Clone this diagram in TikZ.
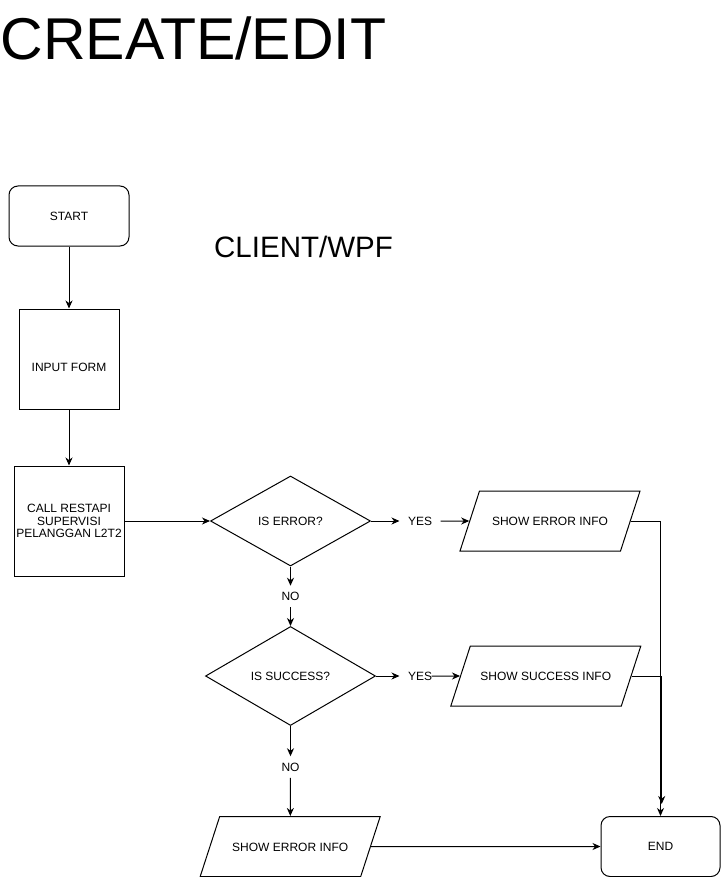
\documentclass[tikz,border=0pt]{standalone}
\usepackage{fontspec}
\setmainfont{Liberation Sans}
\usepackage{tikz}
\usetikzlibrary{arrows.meta}
\usetikzlibrary{shapes.geometric}

\begin{document}
\begin{tikzpicture}[x=1pt, y=-1pt, line width=1pt,
		every node/.style={font=\fontsize{12}{12.5}\selectfont, align=center},
		process/.style={draw, rectangle, inner sep=0pt},
		terminal/.style={draw, rectangle, rounded corners=9pt, minimum width=120pt, minimum height=60pt, inner sep=0pt},
		decision/.style={draw, diamond, inner sep=0pt},
		io/.style={draw, trapezium, trapezium left angle=72, trapezium right angle=108, trapezium stretches body=true, text height=9pt, text depth=0pt, inner xsep=0pt, inner ysep=25.5pt},
		edgetext/.style={inner xsep=8pt, inner ysep=6pt},
		flow/.style={-{Stealth[length=8pt, width=7pt, inset=2.5pt]}}]
	\useasboundingbox (0,0) rectangle (722,877);
	
	\node[anchor=base west, inner sep=0pt, font=\fontsize{59}{60}\selectfont] (title) at (0,59.5) {CREATE/EDIT};
	\node[anchor=base, inner sep=0pt, font=\fontsize{29.5}{30}\selectfont] (client) at (303.5,257) {CLIENT/WPF};
	
	\node[terminal] (start) at (69,216) {START};
	\node[process, minimum width=100pt, minimum height=100pt, text height=25pt, text depth=0pt] (input) at (69,359) {INPUT FORM};
	\node[process, minimum width=110pt, minimum height=110pt] (call) at (69,521) {CALL RESTAPI\\SUPERVISI\\PELANGGAN L2T2};
	
	\node[decision, minimum width=160pt, minimum height=90pt] (iserror) at (290.5,521) {IS ERROR?};
	\node[edgetext] (yes1) at (420,521) {YES};
	\node[io, minimum width=180pt] (errorinfo) at (550,521) {SHOW ERROR INFO};
	\node[edgetext] (no1) at (290.5,596.5) {NO};
	
	\node[decision, minimum width=170pt, minimum height=99pt] (issuccess) at (290.5,676) {IS SUCCESS?};
	\node[edgetext] (yes2) at (420,676) {YES};
	\node[io, minimum width=190pt] (successinfo) at (545.8,676) {SHOW SUCCESS INFO};
	\node[edgetext] (no2) at (290.5,767) {NO};
	
	\node[io, minimum width=180pt] (errorinfo2) at (290.2,846.5) {SHOW ERROR INFO};
	\node[terminal, minimum width=119pt] (end) at (660.5,846.5) {END};
	
	\draw[flow] (start) -- (input);
	\draw[flow] (input) -- (call);
	\draw[flow] (call) -- (iserror);
	\draw[flow] (iserror) -- (yes1);
	\draw[flow] (yes1) -- (errorinfo);
	\draw[flow] (iserror) -- (no1);
	\draw[flow] (no1) -- (issuccess);
	\draw[flow] (issuccess) -- (yes2);
	\draw[flow] ([xshift=-9pt]yes2.east) -- (successinfo.west);
	\draw[flow] (issuccess) -- (no2);
	\draw[flow] (no2) -- (errorinfo2);
	\draw[flow] (errorinfo2) -- (end);
	\draw[flow] (errorinfo.east) -| (end.north);
	\draw[flow] (successinfo.east) -| ([xshift=1.2pt, yshift=12pt]end.north);
\end{tikzpicture}
\end{document}
